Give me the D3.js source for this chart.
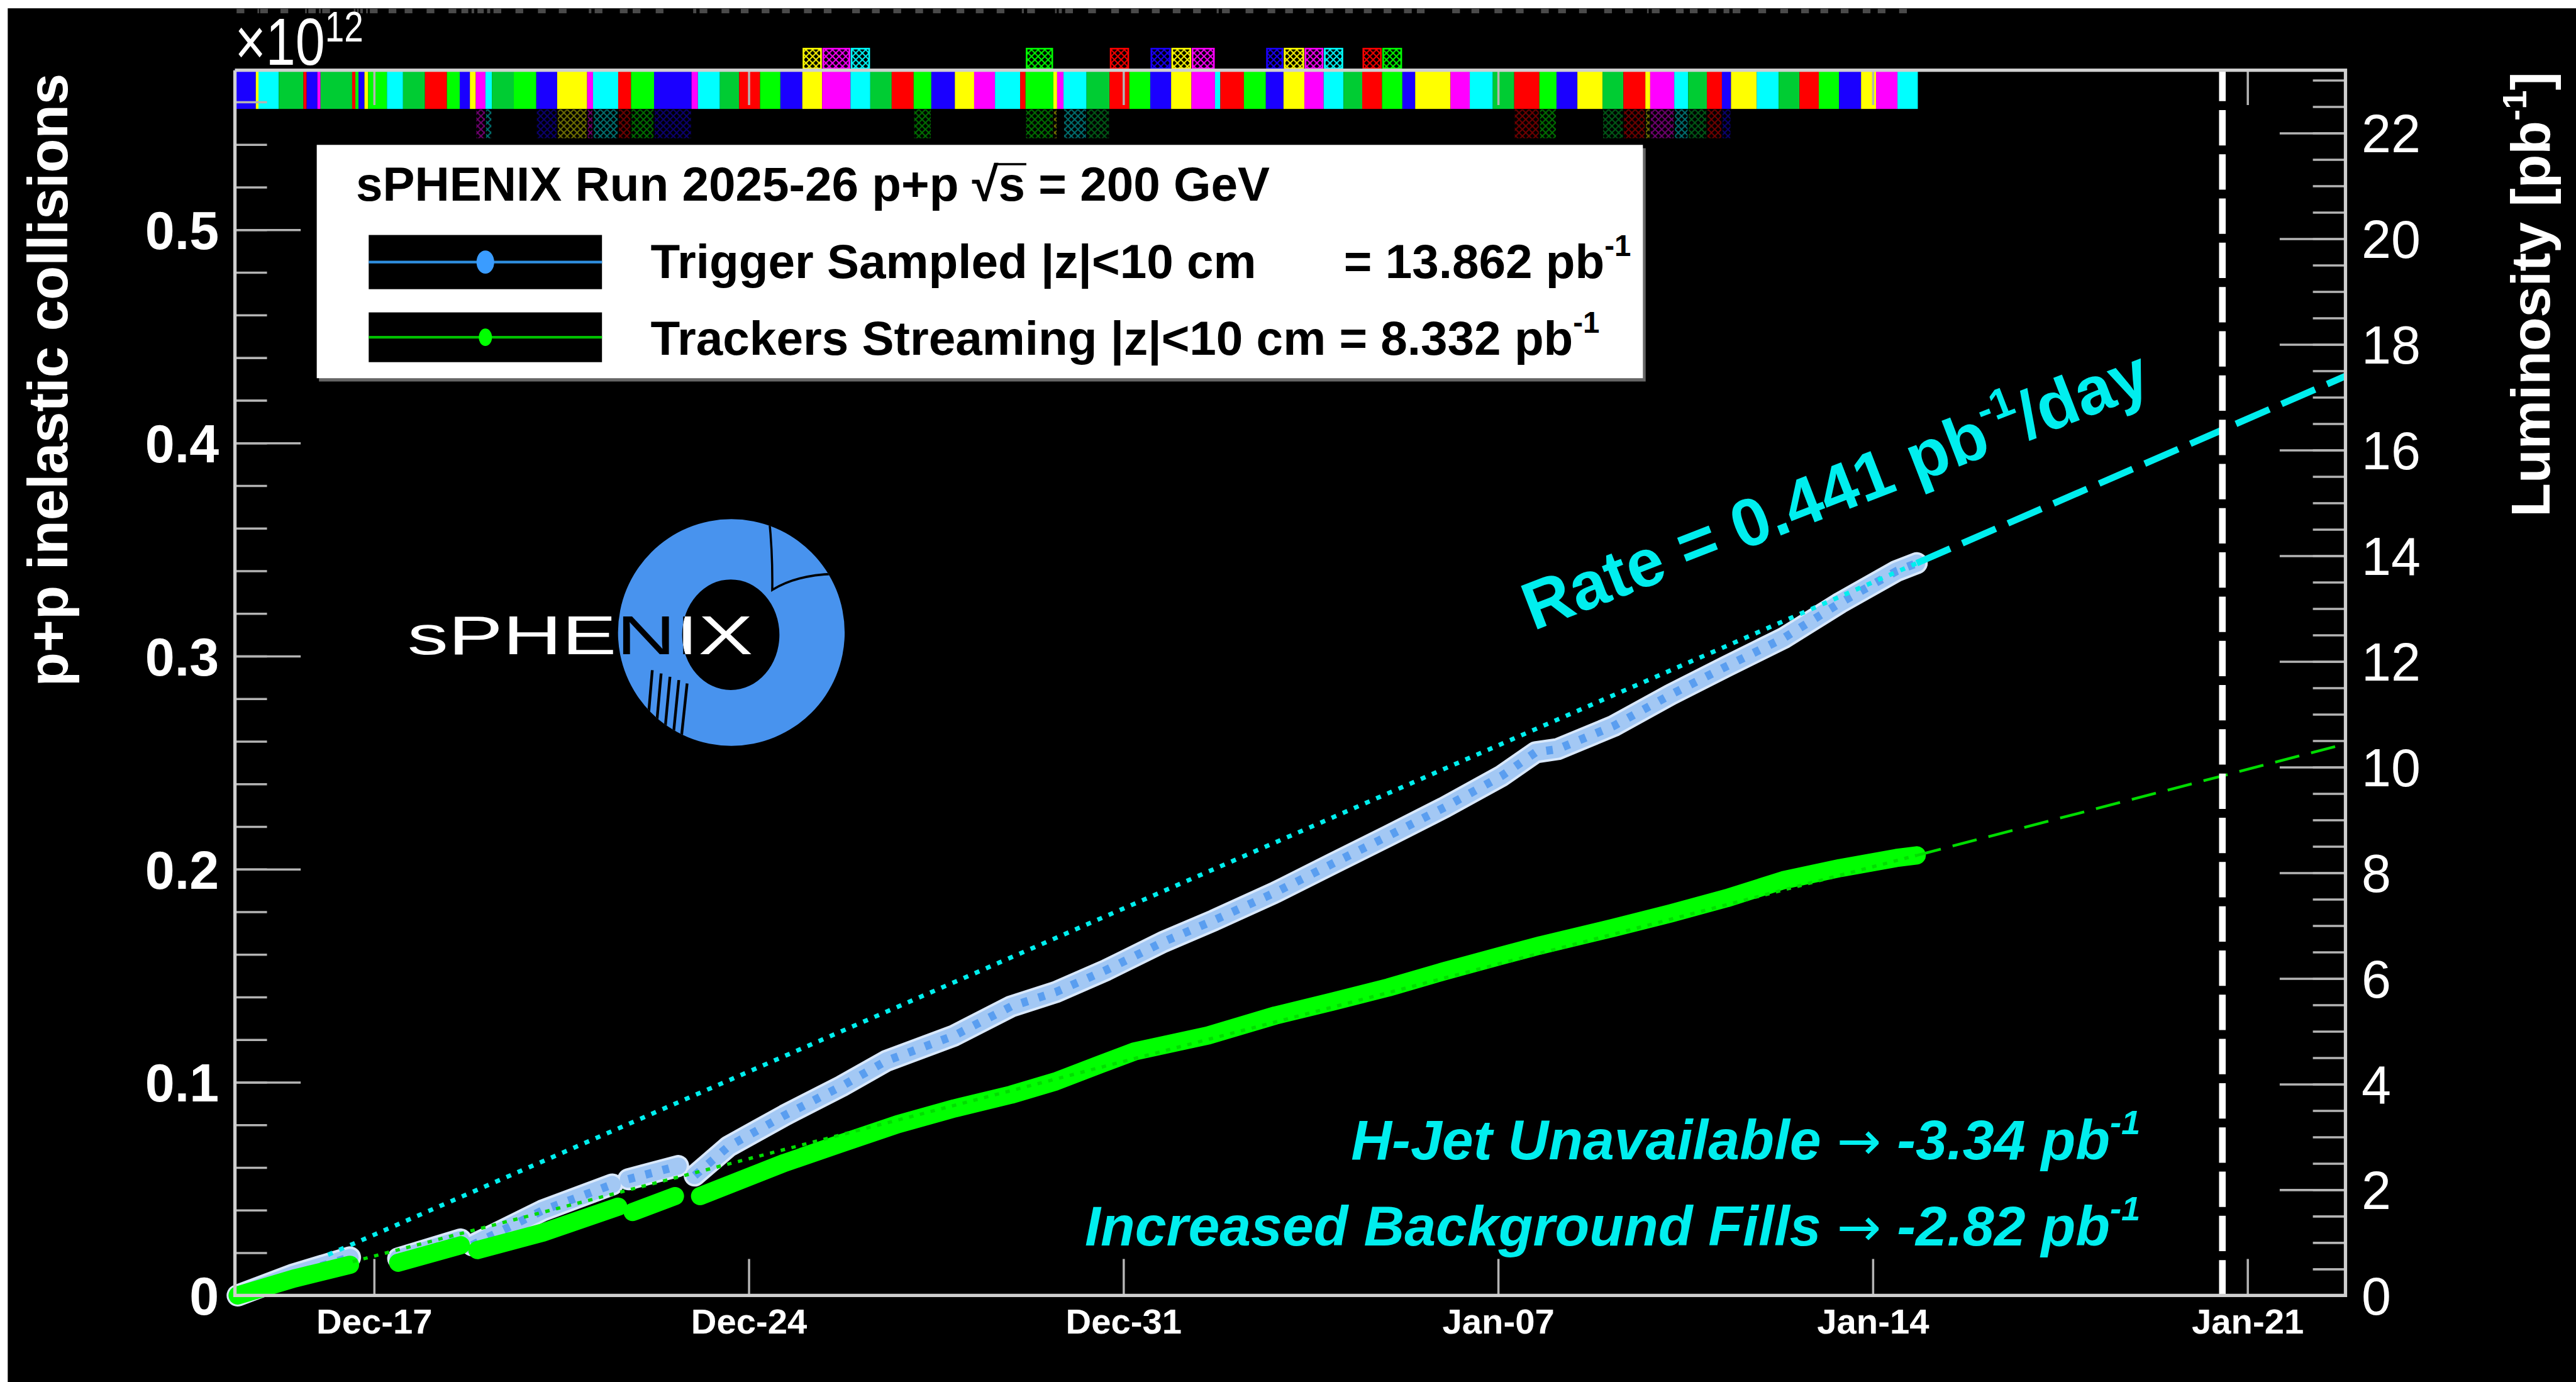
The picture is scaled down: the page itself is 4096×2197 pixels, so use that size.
<!DOCTYPE html>
<html>
<head>
<meta charset="utf-8">
<script src="https://cdn.jsdelivr.net/npm/d3@7"></script>
<style>
  html, body { margin: 0; padding: 0; background: #fff; overflow: hidden; }
  svg { display: block; }
  text { font-family: "Liberation Sans", Arial, Helvetica, sans-serif; }
</style>
</head>
<body>
<div id="chart"></div>
<script>
/*
 *  DATA  (days counted from Dec-17 00:00, luminosity in pb^-1)
 */
// fills shown in the colour strip on top of the frame
var fillStart = [
  -2.60, -2.21, -2.16, -1.78, -1.32, -1.26, -1.06, -1.00, -0.41, -0.35,
  -0.29, -0.18, -0.11, 0.24, 0.54, 0.95, 1.36, 1.60, 1.79, 1.90,
  2.08, 2.20, 2.61, 3.03, 3.42, 3.98, 4.09, 4.56, 4.80, 5.23,
  5.93, 6.05, 6.46, 6.82, 7.21, 7.59, 8.00, 8.37, 8.90, 9.27,
  9.67, 10.08, 10.41, 10.85, 11.21, 11.60, 12.07, 12.17, 12.69, 12.76,
  12.88, 13.31, 13.74, 14.11, 14.50, 14.89, 15.27, 15.71, 15.81, 16.25,
  16.66, 16.99, 17.38, 17.74, 18.11, 18.46, 18.83, 19.21, 19.45, 20.11,
  20.47, 20.90, 21.30, 21.77, 22.09, 22.48, 22.95, 23.34, 23.75, 23.84,
  24.29, 24.55, 24.90, 25.18, 25.35, 25.83, 26.24, 26.63, 26.99, 27.37,
  27.78, 28.06, 28.46
];
var fillColor = ("bycdrbmdrg" + "bygcdrgbym" + "cdgbymcrgb" + "mcdrgbymcd" + "rgbymcrgym" +
                 "cdrgbymcrg" + "bymcdrgbym" + "cdrgbydrym" + "cdrbycdrgb" + "ymc").split("");
var fillEnd = 28.84;
var flagAbove = [8.00, 8.37, 8.90, 12.17, 13.74, 14.50, 14.89, 15.27, 16.66, 16.99, 17.38, 17.74, 18.46, 18.83];
var flagBelow = [1.90, 2.08, 3.03, 3.42, 3.98, 4.09, 4.56, 4.80, 5.23, 10.08, 12.17, 12.69, 12.88, 13.31,
                 21.30, 21.77, 22.95, 23.34, 23.75, 23.84, 24.29, 24.55, 24.90, 25.18];

// cumulative luminosity, one list per continuous stretch of points
var triggerRuns = [
  [[-2.55, 0.00], [-1.50, 0.40], [-0.45, 0.72]],
  [[0.45, 0.70], [1.62, 1.06]],
  [[1.83, 0.95], [3.15, 1.61], [4.45, 2.10]],
  [[4.75, 2.20], [5.68, 2.45]],
  [[5.99, 2.27], [6.62, 2.82], [7.67, 3.41], [8.73, 3.96], [9.57, 4.44], [10.84, 4.92],
   [11.90, 5.47], [12.73, 5.74], [13.68, 6.16], [14.74, 6.69], [15.69, 7.10], [16.84, 7.63],
   [17.90, 8.17], [18.95, 8.70], [20.00, 9.24], [21.06, 9.83], [21.70, 10.28], [22.11, 10.34],
   [23.16, 10.78], [24.22, 11.37], [25.27, 11.91], [26.33, 12.44], [27.39, 13.11],
   [28.44, 13.71], [28.82, 13.86]]
];
var streamRuns = [
  [[-2.55, 0.00], [-1.50, 0.32], [-0.45, 0.58]],
  [[0.45, 0.62], [1.62, 0.95]],
  [[1.93, 0.86], [3.15, 1.19], [4.56, 1.68]],
  [[4.83, 1.58], [5.62, 1.88]],
  [[6.09, 1.88], [7.67, 2.51], [8.73, 2.88], [9.78, 3.24], [10.84, 3.54], [11.90, 3.80],
   [12.73, 4.05], [13.58, 4.38], [14.21, 4.62], [15.58, 4.92], [16.84, 5.30], [17.90, 5.56],
   [18.95, 5.83], [20.00, 6.14], [21.06, 6.43], [21.80, 6.63], [23.16, 6.96], [24.22, 7.23],
   [25.27, 7.52], [26.33, 7.86], [27.39, 8.09], [28.44, 8.28], [28.82, 8.33]]
];
var triggerFitDotted = [[-0.86, 0.77], [28.82, 13.86]];
var triggerFitDashed = [[28.82, 13.86], [36.83, 17.40]];
var streamFitDotted = [[-0.40, 0.64], [28.82, 8.33]];
var streamFitDashed = [[28.82, 8.33], [36.83, 10.44]];
var endOfRunDay = 34.53;

var dateTicks = [0, 7, 14, 21, 28, 35];
var collTicks = [0, 0.1, 0.2, 0.3, 0.4, 0.5];
var collMinor = d3.range(0, 0.575, 0.02);
var lumiTicks = [0, 2, 4, 6, 8, 10, 12, 14, 16, 18, 20, 22];
var lumiMinor = d3.range(0, 23.2, 0.5);

/*
 *  SET UP
 */
var W = 4660, H = 2500, S = 4096 / 4660;
var palette = {r: "#ff0000", g: "#00ff00", b: "#1a00ff", y: "#ffff00", m: "#ff00ff", c: "#00ffff", d: "#00cc33"};
var cyan = "#00eeee";

var svg = d3.select("#chart").append("svg")
    .attr("width", 4096).attr("height", 2197);
var defs = svg.append("defs");
var root = svg.append("g").attr("transform", "scale(" + S + ")");

root.append("rect").attr("width", W).attr("height", H).attr("fill", "#fff");
root.append("rect").attr("x", 14).attr("y", 15).attr("width", W - 14).attr("height", H - 15).attr("fill", "#000");

var base = new Date(2025, 11, 17);
function toDate(d) { return new Date(base.getTime() + d * 864e5); }

var x = d3.scaleTime().domain([toDate(-2.60), toDate(36.83)]).range([425, 4243]);
var yLumi = d3.scaleLinear().domain([0, 23.19]).range([2343, 127]);
var yColl = d3.scaleLinear().domain([0, 0.5749]).range([2343, 127]);

// hatch patterns for the fill flags
Object.keys(palette).forEach(function(k) {
    var p = defs.append("pattern").attr("id", "hatch-" + k)
        .attr("patternUnits", "userSpaceOnUse").attr("width", 12).attr("height", 12);
    p.append("path").attr("d", "M0,0L12,12M12,0L0,12")
        .attr("stroke", palette[k]).attr("stroke-width", 2.2);
});

/*
 *  FILL STRIP
 */
var fills = fillStart.map(function(d, i) {
    return {start: d, end: i < fillStart.length - 1 ? fillStart[i + 1] : fillEnd, c: fillColor[i]};
});

root.append("g").selectAll("rect.fill").data(fills).enter().append("rect")
    .attr("class", "fill")
    .attr("x", function(d) { return x(toDate(d.start)); })
    .attr("width", function(d) { return x(toDate(d.end)) - x(toDate(d.start)); })
    .attr("y", 125).attr("height", 72)
    .attr("fill", function(d) { return palette[d.c]; });

// faint tick labels above the strip
root.append("g").selectAll("rect.lab").data(fills).enter().append("rect")
    .attr("x", function(d) { return x(toDate(d.start)) + 3; })
    .attr("width", function(d) { return Math.max(3, Math.min(14, x(toDate(d.end)) - x(toDate(d.start)) - 6)); })
    .attr("y", 16).attr("height", 8)
    .attr("fill", "#4a4a4a");

function flagged(list) {
    return fills.filter(function(f) { return list.indexOf(f.start) >= 0; });
}
root.append("g").selectAll("rect").data(flagged(flagAbove)).enter().append("rect")
    .attr("x", function(d) { return x(toDate(d.start)) + 2; })
    .attr("width", function(d) { return x(toDate(d.end)) - x(toDate(d.start)) - 4; })
    .attr("y", 88).attr("height", 36)
    .attr("fill", function(d) { return "url(#hatch-" + d.c + ")"; })
    .attr("stroke", function(d) { return palette[d.c]; })
    .attr("stroke-width", 3);
root.append("g").attr("opacity", 0.45).selectAll("rect").data(flagged(flagBelow)).enter().append("rect")
    .attr("x", function(d) { return x(toDate(d.start)) + 1; })
    .attr("width", function(d) { return x(toDate(d.end)) - x(toDate(d.start)) - 2; })
    .attr("y", 198).attr("height", 52)
    .attr("fill", function(d) { return "url(#hatch-" + d.c + ")"; });

/*
 *  LOGO
 */
var logo = root.append("g");
var ringPath = "M1118,1144a205,205 0 1,0 410,0a205,205 0 1,0 -410,0Z" +
               "M1234,1148a88,100 0 1,0 176,0a88,100 0 1,0 -176,0Z";
defs.append("clipPath").attr("id", "ring").append("path").attr("d", ringPath).attr("clip-rule", "evenodd");
logo.append("path").attr("d", ringPath).attr("fill", "#4893ee").attr("fill-rule", "evenodd");
logo.append("path").attr("d", "M1391,934 Q1398,1000 1397,1067 Q1440,1040 1508,1038")
    .attr("fill", "none").attr("stroke", "#000").attr("stroke-width", 4)
    .attr("clip-path", "url(#ring)");
var comb = logo.append("g").attr("clip-path", "url(#ring)");
[1180, 1196, 1212, 1228, 1243].forEach(function(cx, i) {
    comb.append("line").attr("x1", cx).attr("y1", 1212 + i * 6).attr("x2", cx - 10).attr("y2", 1330)
        .attr("stroke", "#000").attr("stroke-width", 5);
});
defs.append("clipPath").attr("id", "notring").append("path")
    .attr("d", "M0,0H" + W + "V" + H + "H0Z" + ringPath).attr("clip-rule", "evenodd");
["notring", "ring"].forEach(function(cp) {
    logo.append("text").attr("x", 737).attr("y", 1183)
        .attr("font-family", "DejaVu Sans").attr("font-size", 100)
        .attr("textLength", 625).attr("lengthAdjust", "spacingAndGlyphs")
        .attr("fill", cp === "ring" ? "#000" : "#fff")
        .attr("clip-path", "url(#" + cp + ")")
        .text("sPHENIX");
});

/*
 *  CURVES
 */
var line = d3.line()
    .x(function(d) { return x(toDate(d[0])); })
    .y(function(d) { return yLumi(d[1]); });

var trig = root.append("g");
trig.selectAll("path.edge").data(triggerRuns).enter().append("path")
    .attr("d", line).attr("fill", "none").attr("stroke", "#d9e8fb")
    .attr("stroke-width", 40).attr("stroke-linecap", "round").attr("stroke-linejoin", "round");
trig.selectAll("path.body").data(triggerRuns).enter().append("path")
    .attr("d", line).attr("fill", "none").attr("stroke", "#a3c8f4")
    .attr("stroke-width", 31).attr("stroke-linecap", "round").attr("stroke-linejoin", "round");
trig.selectAll("path.spot").data(triggerRuns).enter().append("path")
    .attr("d", line).attr("fill", "none").attr("stroke", "#5a9ef0")
    .attr("stroke-width", 15).attr("stroke-dasharray", "12,20").attr("stroke-linejoin", "round");

root.append("g").selectAll("path").data(streamRuns).enter().append("path")
    .attr("d", line).attr("fill", "none").attr("stroke", "#00ff00")
    .attr("stroke-width", 33).attr("stroke-linecap", "round").attr("stroke-linejoin", "round");

// rate fits
root.append("path").attr("d", line(streamFitDotted)).attr("fill", "none")
    .attr("stroke", "#00dd00").attr("stroke-width", 6).attr("stroke-dasharray", "8,12");
root.append("path").attr("d", line(streamFitDashed)).attr("fill", "none")
    .attr("stroke", "#00dd00").attr("stroke-width", 5).attr("stroke-dasharray", "45,22");
root.append("path").attr("d", line(triggerFitDotted)).attr("fill", "none")
    .attr("stroke", cyan).attr("stroke-width", 8).attr("stroke-dasharray", "9,13");
root.append("path").attr("d", line(triggerFitDashed)).attr("fill", "none")
    .attr("stroke", cyan).attr("stroke-width", 12).attr("stroke-dasharray", "66,24");

// end of run marker
root.append("line")
    .attr("x1", x(toDate(endOfRunDay))).attr("x2", x(toDate(endOfRunDay)))
    .attr("y1", 2343).attr("y2", 127)
    .attr("stroke", "#fff").attr("stroke-width", 12).attr("stroke-dasharray", "64,16");

/*
 *  AXES
 */
function styleAxis(g) {
    g.select(".domain").remove();
    g.selectAll(".tick line").attr("stroke", "#b4b4b4").attr("stroke-width", 4);
    g.selectAll(".tick text").attr("fill", "#fff").attr("font-family", "Liberation Sans, Arial, sans-serif");
}

root.append("g").attr("transform", "translate(0,2343)")
    .call(d3.axisBottom(x).tickValues(dateTicks.map(toDate)).tickFormat(d3.timeFormat("%b-%d"))
        .tickSizeInner(-66).tickSizeOuter(0).tickPadding(23))
    .call(styleAxis)
    .selectAll(".tick text").attr("font-size", 64).attr("font-weight", "bold");

root.append("g").attr("transform", "translate(0,127)")
    .call(d3.axisTop(x).tickValues(dateTicks.map(toDate)).tickFormat("")
        .tickSizeInner(-63).tickSizeOuter(0))
    .call(styleAxis);

root.append("g").attr("transform", "translate(425,0)")
    .call(d3.axisLeft(yColl).tickValues(collMinor).tickFormat("").tickSizeInner(-58).tickSizeOuter(0))
    .call(styleAxis);
root.append("g").attr("transform", "translate(425,0)")
    .call(d3.axisLeft(yColl).tickValues(collTicks)
        .tickFormat(function(d) { return d === 0 ? "0" : d3.format(".1f")(d); })
        .tickSizeInner(-119).tickSizeOuter(0).tickPadding(29))
    .call(styleAxis)
    .selectAll(".tick text").attr("font-size", 96).attr("font-weight", "bold").attr("dy", "0.36em");

root.append("g").attr("transform", "translate(4243,0)")
    .call(d3.axisRight(yLumi).tickValues(lumiMinor).tickFormat("").tickSizeInner(-59).tickSizeOuter(0))
    .call(styleAxis);
root.append("g").attr("transform", "translate(4243,0)")
    .call(d3.axisRight(yLumi).tickValues(lumiTicks).tickSizeInner(-119).tickSizeOuter(0).tickPadding(29))
    .call(styleAxis)
    .selectAll(".tick text").attr("font-size", 96).attr("dy", "0.36em");

// frame
root.append("path")
    .attr("d", "M425,127V2343H4243V127H425")
    .attr("fill", "none").attr("stroke", "#cfcfcf").attr("stroke-width", 6);

// axis titles
root.append("text")
    .attr("transform", "translate(122,133)rotate(-90)")
    .attr("text-anchor", "end").attr("fill", "#fff")
    .attr("font-size", 101).attr("font-weight", "bold")
    .text("p+p inelastic collisions");

var rt = root.append("text")
    .attr("transform", "translate(4612,130)rotate(-90)")
    .attr("text-anchor", "end").attr("fill", "#fff")
    .attr("font-size", 100).attr("font-weight", "bold");
rt.append("tspan").text("Luminosity [pb");
rt.append("tspan").attr("font-size", 62).attr("dy", -42).text("-1");
rt.append("tspan").attr("dy", 42).text("]");

var ex = root.append("text").attr("transform", "translate(425,117)scale(0.8,1)")
    .attr("fill", "#fff").attr("font-size", 120);
ex.append("tspan").text("\u00d710");
ex.append("tspan").attr("font-size", 78).attr("dy", -42).text("12");

/*
 *  LEGEND
 */
var leg = root.append("g");
leg.append("rect").attr("x", 577).attr("y", 268).attr("width", 2400).attr("height", 422).attr("fill", "#666");
leg.append("rect").attr("x", 573).attr("y", 262).attr("width", 2399).attr("height", 422).attr("fill", "#fff");

var title = leg.append("text").attr("x", 644).attr("y", 363)
    .attr("font-size", 87).attr("font-weight", "bold").attr("fill", "#000")
    .text("sPHENIX Run 2025-26 p+p \u221as = 200 GeV");
var tnode = title.node();
var sIdx = tnode.textContent.indexOf("\u221as") + 1;
var sx0 = 644 + tnode.getSubStringLength(0, sIdx);
var sw = tnode.getSubStringLength(sIdx, 1);
leg.append("line").attr("x1", sx0 - 4).attr("x2", sx0 + sw + 2).attr("y1", 297).attr("y2", 297)
    .attr("stroke", "#000").attr("stroke-width", 4);

var entries = [
    {y: 425, h: 98, col: "#2f8fe0", mark: "#3a9cff", r: 20, label: "Trigger Sampled |z|<10 cm", val: "= 13.862 pb", vx: 2431, base: 503},
    {y: 565, h: 90, col: "#00c000", mark: "#00ff00", r: 15, label: "Trackers Streaming |z|<10 cm = 8.332 pb", vx: null, base: 642}
];
entries.forEach(function(e) {
    leg.append("rect").attr("x", 667).attr("y", e.y).attr("width", 422).attr("height", e.h).attr("fill", "#000");
    leg.append("line").attr("x1", 667).attr("x2", 1089).attr("y1", e.y + e.h / 2).attr("y2", e.y + e.h / 2)
        .attr("stroke", e.col).attr("stroke-width", 5);
    leg.append("ellipse").attr("cx", 878).attr("cy", e.y + e.h / 2).attr("rx", e.r * 0.8).attr("ry", e.r * 1.05)
        .attr("fill", e.mark);
    var t = leg.append("text").attr("x", 1177).attr("y", e.base)
        .attr("font-size", 87).attr("font-weight", "bold").attr("fill", "#000");
    if (e.vx) {
        t.text(e.label);
        t = leg.append("text").attr("x", e.vx).attr("y", e.base)
            .attr("font-size", 87).attr("font-weight", "bold").attr("fill", "#000");
        t.append("tspan").text(e.val);
    } else {
        t.append("tspan").text(e.label);
    }
    t.append("tspan").attr("font-size", 54).attr("dy", -40).text("-1");
});

/*
 *  ANNOTATIONS
 */
var rate = root.append("text")
    .attr("transform", "translate(2774,1141)rotate(-21.1)")
    .attr("fill", cyan).attr("font-size", 122).attr("font-weight", "bold");
rate.append("tspan").text("Rate = 0.441 pb");
rate.append("tspan").attr("font-size", 76).attr("dy", -54).text("-1");
rate.append("tspan").attr("dy", 54).text("/day");

[{y: 2097, pre: "H-Jet Unavailable ", post: " -3.34 pb"},
 {y: 2253, pre: "Increased Background Fills ", post: " -2.82 pb"}].forEach(function(a) {
    var t = root.append("text").attr("x", 3872).attr("y", a.y)
        .attr("text-anchor", "end").attr("fill", cyan)
        .attr("font-size", 102).attr("font-weight", "bold").attr("font-style", "italic");
    t.append("tspan").text(a.pre);
    t.append("tspan").attr("font-family", "DejaVu Sans").attr("font-weight", "normal")
        .attr("font-style", "normal").attr("font-size", 96).text("\u2192");
    t.append("tspan").text(a.post);
    t.append("tspan").attr("font-size", 62).attr("dy", -46).text("-1");
});
</script>
</body>
</html>
